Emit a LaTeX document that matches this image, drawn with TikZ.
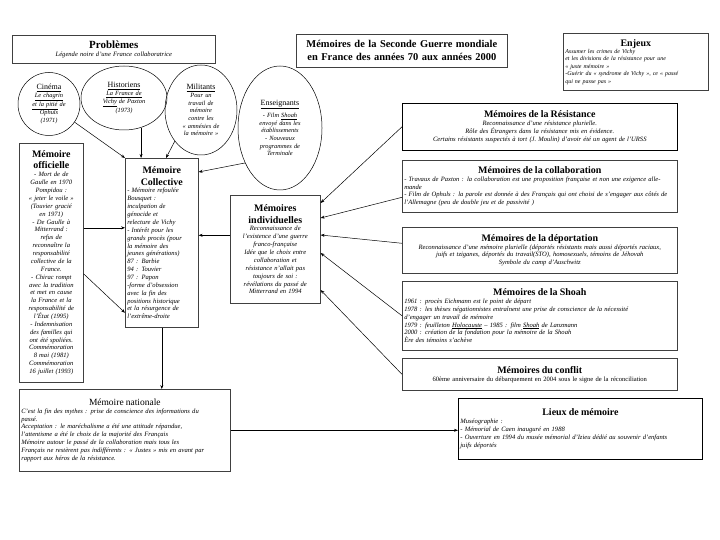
\documentclass[tikz,border=0pt]{standalone}
\usepackage{fontspec}
\setmainfont{Liberation Serif}
\usetikzlibrary{shapes.geometric,arrows.meta}
\newcommand\boxtitle[1]{{\centering\fontsize{10}{11.5}\selectfont\bfseries\upshape #1\par}}
\newcommand\bubtitle[1]{{\fontsize{8}{10}\selectfont\upshape\underline{#1}\par}}

\begin{document}
\begin{tikzpicture}[x=1bp, y=-1bp,
    box/.style={draw=black!75, line width=.6pt, anchor=north west, inner sep=2bp, align=center,
        font=\fontsize{6.6}{7.9}\selectfont\itshape},
    bulle/.style={draw, ellipse, line width=.5pt, inner sep=0pt, align=center,
        font=\fontsize{6.4}{7.7}\selectfont\itshape},
    fl/.style={-{Stealth[length=4bp,width=3bp]}, line width=.5pt}]
\useasboundingbox (0,0) rectangle (720,540);

\node[box, minimum width=203bp, minimum height=28bp, text width=199bp] (prob) at (12,35)
    {{\centering\fontsize{11}{12.5}\selectfont\bfseries\upshape Problèmes\par}Légende noire d'une France collaboratrice};
\node[box, minimum width=211bp, minimum height=33bp, text width=207bp,
    font=\fontsize{10.5}{13}\selectfont\bfseries] (titre) at (296,34)
    {Mémoires de la Seconde Guerre mondiale\\en France des années 70 aux années 2000};
\node[box, minimum width=145bp, minimum height=57bp, text width=141bp, align=left,
    font=\fontsize{6}{7.4}\selectfont\itshape] (enjeux) at (563,33)
    {\boxtitle{Enjeux}Assumer les crimes de Vichy\\et les divisions de la résistance pour une\\« juste mémoire »\\-Guérir du « syndrome de Vichy », ce « passé\\qui ne passe pas »};

\node[bulle, minimum width=62bp, minimum height=63bp, text width=40bp] (cine) at (49,104)
    {\bubtitle{Cinéma}\underline{Le chagrin}\\\underline{et la pitié} de\\Ophuls\\(1971)\par\vspace*{8bp}};
\node[bulle, minimum width=86bp, minimum height=64bp, text width=60bp] (hist) at (124,98)
    {\bubtitle{Historiens}\underline{La France de}\\\underline{Vichy} de Paxton\\(1973)\par\vspace*{4bp}};
\node[bulle, minimum width=72bp, minimum height=90bp, text width=50bp] (mili) at (201,110)
    {\bubtitle{Militants}Pour un\\travail de\\mémoire\\contre les\\« amnésies de\\la mémoire »};
\node[bulle, minimum width=84bp, minimum height=124bp, text width=56bp] (ens) at (280,128)
    {\bubtitle{Enseignants}\par\vspace*{3bp}- Film \underline{Shoah}\\envoyé dans les\\établissements\\- Nouveaux\\programmes de\\Terminale\par\vspace*{14bp}};

\node[box, minimum width=64bp, minimum height=239bp, text width=60bp] (offi) at (19,143)
    {\boxtitle{Mémoire\\officielle}- Mort de de\\Gaulle en 1970\\Pompidou :\\« jeter le voile »\\(Touvier gracié\\en 1971)\\- De Gaulle à\\Mitterrand :\\refus de\\reconnaître la\\responsabilité\\collective de la\\France.\\- Chirac rompt\\avec la tradition\\et met en cause\\la France et la\\responsabilité de\\l'État (1995)\\- Indemnisation\\des familles qui\\ont été spoliées.\\Commémoration\\8 mai (1981)\\Commémoration\\16 juillet (1993)};
\node[box, minimum width=73bp, minimum height=169bp, text width=69bp, align=left] (coll) at (125,158)
    {\boxtitle{Mémoire\\Collective}- Mémoire refoulée\\Bousquet :\\inculpation de\\génocide et\\relecture de Vichy\\- Intérêt pour les\\grands procès (pour\\la mémoire des\\jeunes générations)\\87 : Barbie\\94 : Touvier\\97 : Papon\\-forme d'obsession\\avec la fin des\\positions historique\\et la résurgence de\\l'extrême-droite};
\node[box, minimum width=90bp, minimum height=108bp, text width=86bp] (indiv) at (230,195)
    {\boxtitle{Mémoires\\individuelles}Reconnaissance de\\l'existence d'une guerre\\franco-française\\Idée que le choix entre\\collaboration et\\résistance n'allait pas\\toujours de soi :\\révélations du passé de\\Mitterrand en 1994\par\vspace*{2bp}};

\node[box, minimum width=275bp, minimum height=47bp, text width=271bp, draw=black] (resis) at (402,103)
    {\boxtitle{Mémoires de la Résistance}Reconnaissance d'une résistance plurielle.\\Rôle des Étrangers dans la résistance mis en évidence.\\Certains résistants suspectés à tort (J. Moulin) d'avoir été un agent de l'URSS};
\node[box, minimum width=275bp, minimum height=52bp, text width=271bp, align=left] (collab) at (402,160)
    {\boxtitle{Mémoires de la collaboration}- Travaux de Paxton : la collaboration est une proposition française et non une exigence allemande\\- Film de Ophuls : la parole est donnée à des Français qui ont choisi de s'engager aux côtés de l'Allemagne (peu de double jeu et de passivité )};
\node[box, minimum width=275bp, minimum height=46bp, text width=271bp] (depor) at (402,227)
    {\boxtitle{Mémoires de la déportation}Reconnaissance d'une mémoire plurielle (déportés résistants mais aussi déportés raciaux,\\juifs et tziganes, déportés du travail(STO), homosexuels, témoins de Jéhovah\\Symbole du camp d'Auschwitz};
\node[box, minimum width=275bp, minimum height=69bp, text width=271bp, align=left] (shoah) at (402,281)
    {\boxtitle{Mémoires de la Shoah}1961 : procès Eichmann est le point de départ\\1978 : les thèses négationnistes entraînent une prise de conscience de la nécessité\\d'engager un travail de mémoire\\1979 : feuilleton \underline{Holocauste} -- 1985 : film \underline{Shoah} de Lanzmann\\2000 : création de la fondation pour la mémoire de la Shoah\\Ère des témoins s'achève};
\node[box, minimum width=275bp, minimum height=32bp, text width=271bp,
    font=\fontsize{6.6}{7.9}\selectfont] (conflit) at (402,358)
    {\boxtitle{Mémoires du conflit}60ème anniversaire du débarquement en 2004 sous le signe de la réconciliation};

\node[box, minimum width=211bp, minimum height=82bp, text width=207bp, align=left] (nat) at (19,389)
    {{\centering\fontsize{9.5}{11}\selectfont\upshape Mémoire nationale\par}C'est la fin des mythes : prise de conscience des informations du\\passé.\\Acceptation : le maréchalisme a été une attitude répandue,\\l'attentisme a été le choix de la majorité des Français\\Mémoire autour le passé de la collaboration mais tous les\\Français ne restèrent pas indifférents : « Justes » mis en avant par\\rapport aux héros de la résistance.\par\vspace*{10bp}};
\node[box, minimum width=244bp, minimum height=61bp, text width=240bp, align=left, draw=black, line width=.8pt] (lieux) at (458,398)
    {\boxtitle{Lieux de mémoire}Muséographie :\\- Mémorial de Caen inauguré en 1988\\- Ouverture en 1994 du musée mémorial d'Izieu dédié au souvenir d'enfants\\juifs déportés\par\vspace*{16bp}};

\draw[fl] (cine) -- (coll.north west);
\draw[fl] (hist.-60) -- (hist.-60 |- coll.north);
\draw[fl] (mili.230) -- ([xshift=41bp]coll.north west);
\draw[fl] (ens.225) -- ([yshift=-14bp]coll.north east);
\draw[fl] ([yshift=35bp]offi.east) -- ([yshift=35bp]offi.east -| coll.west);
\draw[fl] ([yshift=-11bp]offi.east) -- ([yshift=-70bp]coll.west);
\draw[fl] ([yshift=14bp]indiv.west) -- ([yshift=14bp]indiv.west -| coll.east);
\draw[fl] (resis.west) -- ([yshift=-8bp]indiv.north east);
\draw[fl] ([yshift=-11bp]collab.west) -- ([yshift=-23bp]indiv.north east);
\draw[fl] ([yshift=7bp]depor.west) -- ([yshift=-40bp]indiv.north east);
\draw[fl] (shoah.west) -- ([yshift=-58bp]indiv.north east);
\draw[fl] (conflit.west) -- ([yshift=-95bp]indiv.north east);
\draw[fl] (coll.south) -- (coll.south |- nat.north);
\draw[fl] (nat.east) -- (nat.east -| lieux.west);
\end{tikzpicture}
\end{document}
